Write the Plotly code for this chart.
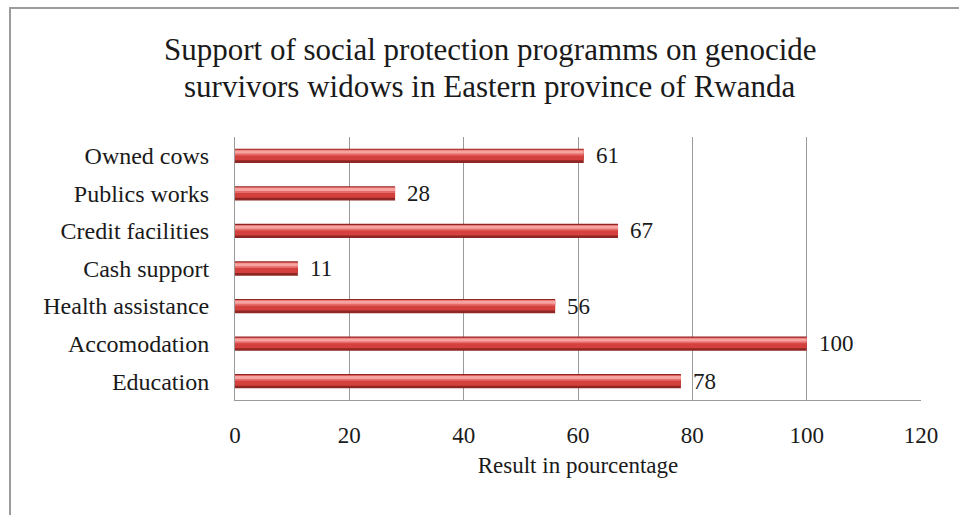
import plotly.graph_objects as go

categories = ["Education", "Accomodation", "Health assistance", "Cash support",
              "Credit facilities", "Publics works", "Owned cows"]
values = [78, 100, 56, 11, 67, 28, 61]
x_ticks = [0, 20, 40, 60, 80, 100, 120]
title_lines = ["Support of social protection programms on genocide",
               "survivors widows in Eastern province of Rwanda"]

FONT = "Liberation Serif, Times New Roman, serif"
TXT = "#1a1a1a"

L, R, T, B = 235, 38, 137, 115
PW, PH = 959 - L - R, 515 - T - B


def px_x(px):
    return (px - L) / PW


def px_y(py):
    return 1 + (T - py) / PH


fig = go.Figure()
# dark base (shadow side of cylinder)
fig.add_trace(go.Bar(y=categories, x=values, orientation="h", width=0.38, offset=-0.19,
                     marker=dict(color="#8E2624", line=dict(width=0)), hoverinfo="skip",
                     showlegend=False))
# main body
fig.add_trace(go.Bar(y=categories, x=values, orientation="h", width=0.28, offset=-0.12,
                     marker=dict(color="#D3403D", line=dict(width=0)), hoverinfo="skip",
                     showlegend=False))
# mid tone
fig.add_trace(go.Bar(y=categories, x=values, orientation="h", width=0.15, offset=0.01,
                     marker=dict(color="#E66A67", line=dict(width=0)), hoverinfo="skip",
                     showlegend=False))
# highlight
fig.add_trace(go.Bar(y=categories, x=values, orientation="h", width=0.08, offset=0.06,
                     marker=dict(color="#F5A4A1", line=dict(width=0)), hoverinfo="skip",
                     showlegend=False))

annotations = []
for cat, v in zip(categories, values):
    annotations.append(dict(text=str(v), x=v, y=cat, xref="x", yref="y",
                            xanchor="left", yanchor="middle", xshift=10, showarrow=False,
                            font=dict(family=FONT, size=23, color=TXT)))
for line, ypx in zip(title_lines, [50, 86]):
    annotations.append(dict(text=line, xref="paper", yref="paper",
                            x=px_x(490), y=px_y(ypx), xanchor="center", yanchor="middle",
                            showarrow=False, font=dict(family=FONT, size=31, color=TXT)))

fig.update_layout(
    width=959, height=515,
    margin=dict(l=L, r=R, t=T, b=B),
    barmode="overlay",
    paper_bgcolor="white", plot_bgcolor="white",
    font=dict(family=FONT, size=23, color=TXT),
    annotations=annotations,
    xaxis=dict(range=[0, 120], tickvals=x_ticks, showgrid=True, gridcolor="#9a9a9a", gridwidth=1,
               zeroline=False, showline=True, linecolor="#9a9a9a", linewidth=1,
               ticks="", tickfont=dict(family=FONT, size=23, color=TXT),
               ticklabelstandoff=14,
               title=dict(text="Result in pourcentage", font=dict(family=FONT, size=23, color=TXT),
                          standoff=10)),
    yaxis=dict(showgrid=False, showline=True, linecolor="#9a9a9a", linewidth=1, ticks="",
               tickfont=dict(family=FONT, size=24, color=TXT), ticklabelstandoff=20,
               range=[-0.5, 6.5]),
    shapes=[dict(type="rect", xref="paper", yref="paper",
                 x0=px_x(10), x1=px_x(962),
                 y0=px_y(518), y1=px_y(8),
                 line=dict(color="#9c9c9c", width=2), fillcolor="rgba(0,0,0,0)")],
)

fig.write_html("out.html")
